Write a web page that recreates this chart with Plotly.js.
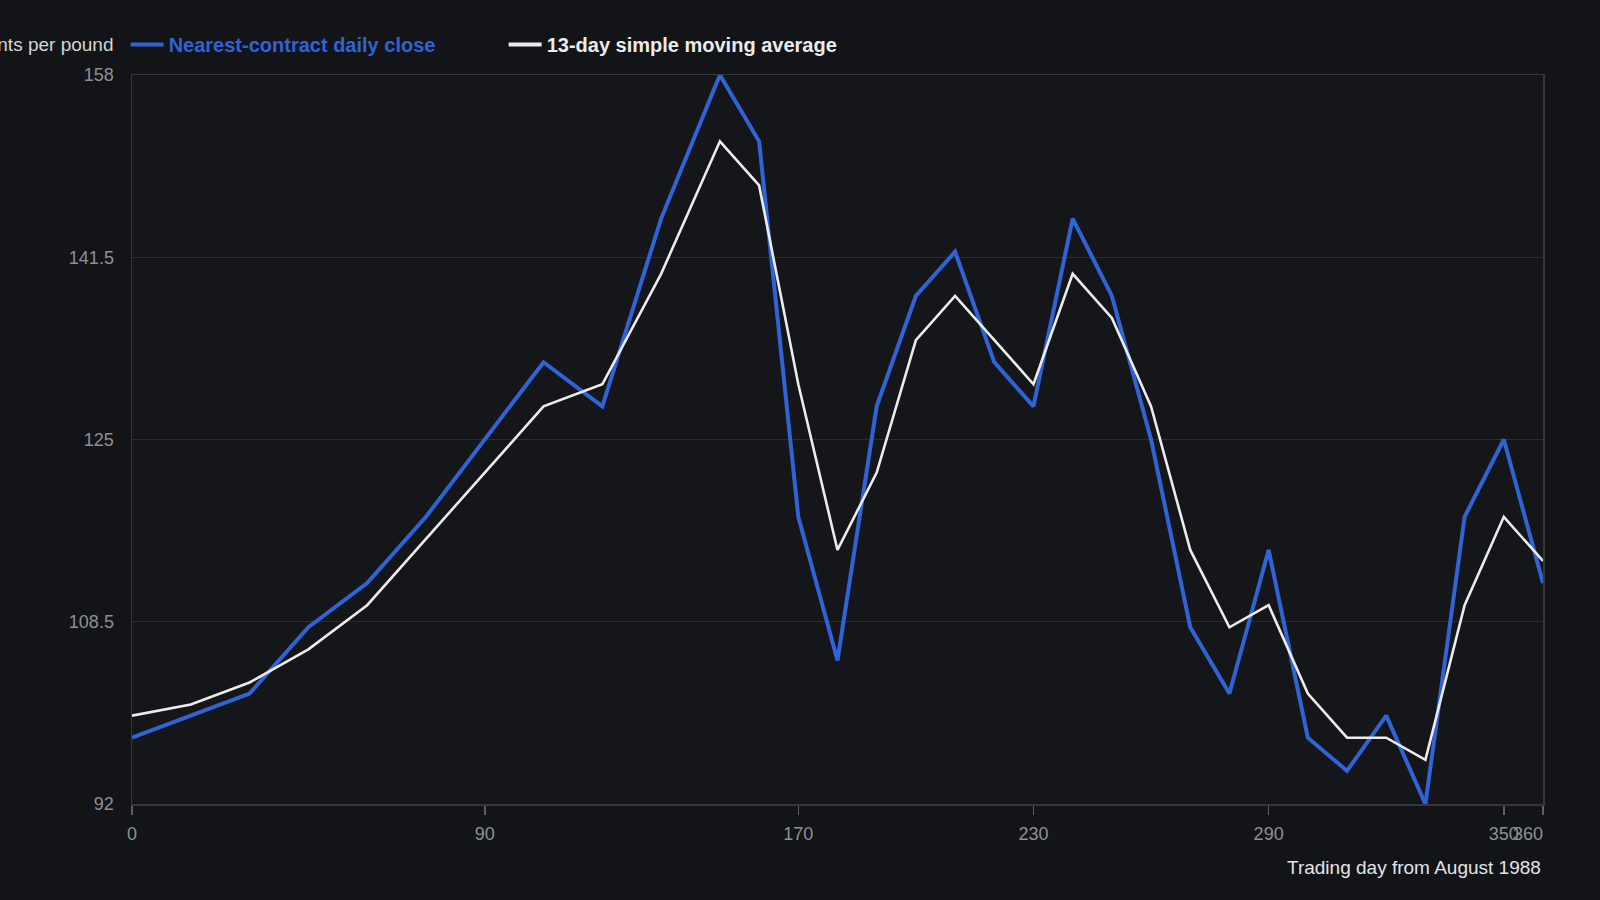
<!DOCTYPE html>
<html>
<head>
<meta charset="utf-8">
<script src="https://cdn.plot.ly/plotly-3.0.1.min.js"></script>
<style>
  html, body { margin: 0; padding: 0; background: #131417; }
  #chart { width: 1600px; height: 900px; }
</style>
</head>
<body>
<div id="chart"></div>
<script>
// Trading day from August 1988
const days = [0, 15, 30, 45, 60, 75, 90, 105, 120, 135, 150, 160, 170, 180, 190, 200, 210, 220, 230, 240, 250, 260, 270, 280, 290, 300, 310, 320, 330, 340, 350, 360];
// Nearest-contract daily close (cents per pound)
const closeValues = [98, 100, 102, 108, 112, 118, 125, 132, 128, 145, 158, 152, 118, 105, 128, 138, 142, 132, 128, 145, 138, 125, 108, 102, 115, 98, 95, 100, 92, 118, 125, 112];
// 13-day simple moving average
const smaValues = [100, 101, 103, 106, 110, 116, 122, 128, 130, 140, 152, 148, 130, 115, 122, 134, 138, 134, 130, 140, 136, 128, 115, 108, 110, 102, 98, 98, 96, 110, 118, 114];

const xTickVals = [0, 90, 170, 230, 290, 350, 360];
const yTickVals = [92, 108.5, 125, 141.5, 158];

const seriesNames = ["Nearest-contract daily close", "13-day simple moving average"];
const yTitle = "Cents per pound";
const xTitle = "Trading day from August 1988";

const blue = "#2f63d6";
const white = "#ececec";

const traces = [
  {
    x: days, y: closeValues, type: "scatter", mode: "lines",
    name: seriesNames[0],
    line: { color: blue, width: 4 },
    hoverinfo: "skip"
  },
  {
    x: days, y: smaValues, type: "scatter", mode: "lines",
    name: seriesNames[1],
    line: { color: white, width: 2.6 },
    hoverinfo: "skip"
  }
];

const layout = {
  width: 1600, height: 900,
  paper_bgcolor: "#131417",
  plot_bgcolor: "#15161a",
  margin: { l: 132, r: 57, t: 75, b: 96 },
  font: { family: "Liberation Sans, Arial, sans-serif", color: "#8d9096", size: 18 },
  showlegend: true,
  legend: {
    orientation: "h",
    x: -0.0045, xanchor: "left",
    y: 1.015, yanchor: "bottom",
    bgcolor: "rgba(0,0,0,0)",
    font: { size: 20, family: "Liberation Sans, Arial, sans-serif", weight: "bold" },
    itemwidth: 33,
    entrywidth: 330
  },
  xaxis: {
    range: [0, 360],
    tickvals: xTickVals,
    ticktext: xTickVals.map(String),
    tickangle: 0,
    showgrid: false,
    zeroline: false,
    showline: true, mirror: true,
    linecolor: "#34373c", linewidth: 1.5,
    ticks: "outside", ticklen: 9, tickwidth: 1.5, tickcolor: "#5a5d62",
    ticklabelstandoff: 4,
    tickfont: { size: 18, color: "#8d9096" }
  },
  yaxis: {
    range: [92, 158],
    tickvals: yTickVals,
    ticktext: yTickVals.map(String),
    showgrid: true, gridcolor: "#2a2c31", gridwidth: 1,
    zeroline: false,
    showline: true, mirror: true,
    linecolor: "#34373c", linewidth: 1.5,
    ticks: "",
    ticklabelstandoff: 13,
    tickfont: { size: 18, color: "#8d9096" }
  },
  annotations: [
    {
      text: yTitle, xref: "paper", yref: "paper",
      x: 0, y: 1, xanchor: "right", yanchor: "middle",
      xshift: -16, yshift: 31, showarrow: false,
      font: { size: 19, color: "#d4d6da" }
    },
    {
      text: xTitle, xref: "paper", yref: "paper",
      x: 1, y: 0, xanchor: "right", yanchor: "middle",
      yshift: -63, showarrow: false,
      font: { size: 19, color: "#e2e4e8" }
    }
  ]
};

Plotly.newPlot("chart", traces, layout, { displayModeBar: false, staticPlot: true }).then(function () {
  const cols = [blue, white];
  document.querySelectorAll(".legend .traces").forEach(function (g, i) {
    const t = g.querySelector("text.legendtext");
    if (t) t.style.fill = cols[i];
    const p = g.querySelector("path.js-line");
    if (p) p.style.strokeWidth = "4px";
  });
  // last x tick label kept inside the plot edge, as in the reference
  const xt = document.querySelectorAll(".xtick text");
  if (xt.length) {
    const last = xt[xt.length - 1];
    last.setAttribute("text-anchor", "end");
  }
});
</script>
</body>
</html>
